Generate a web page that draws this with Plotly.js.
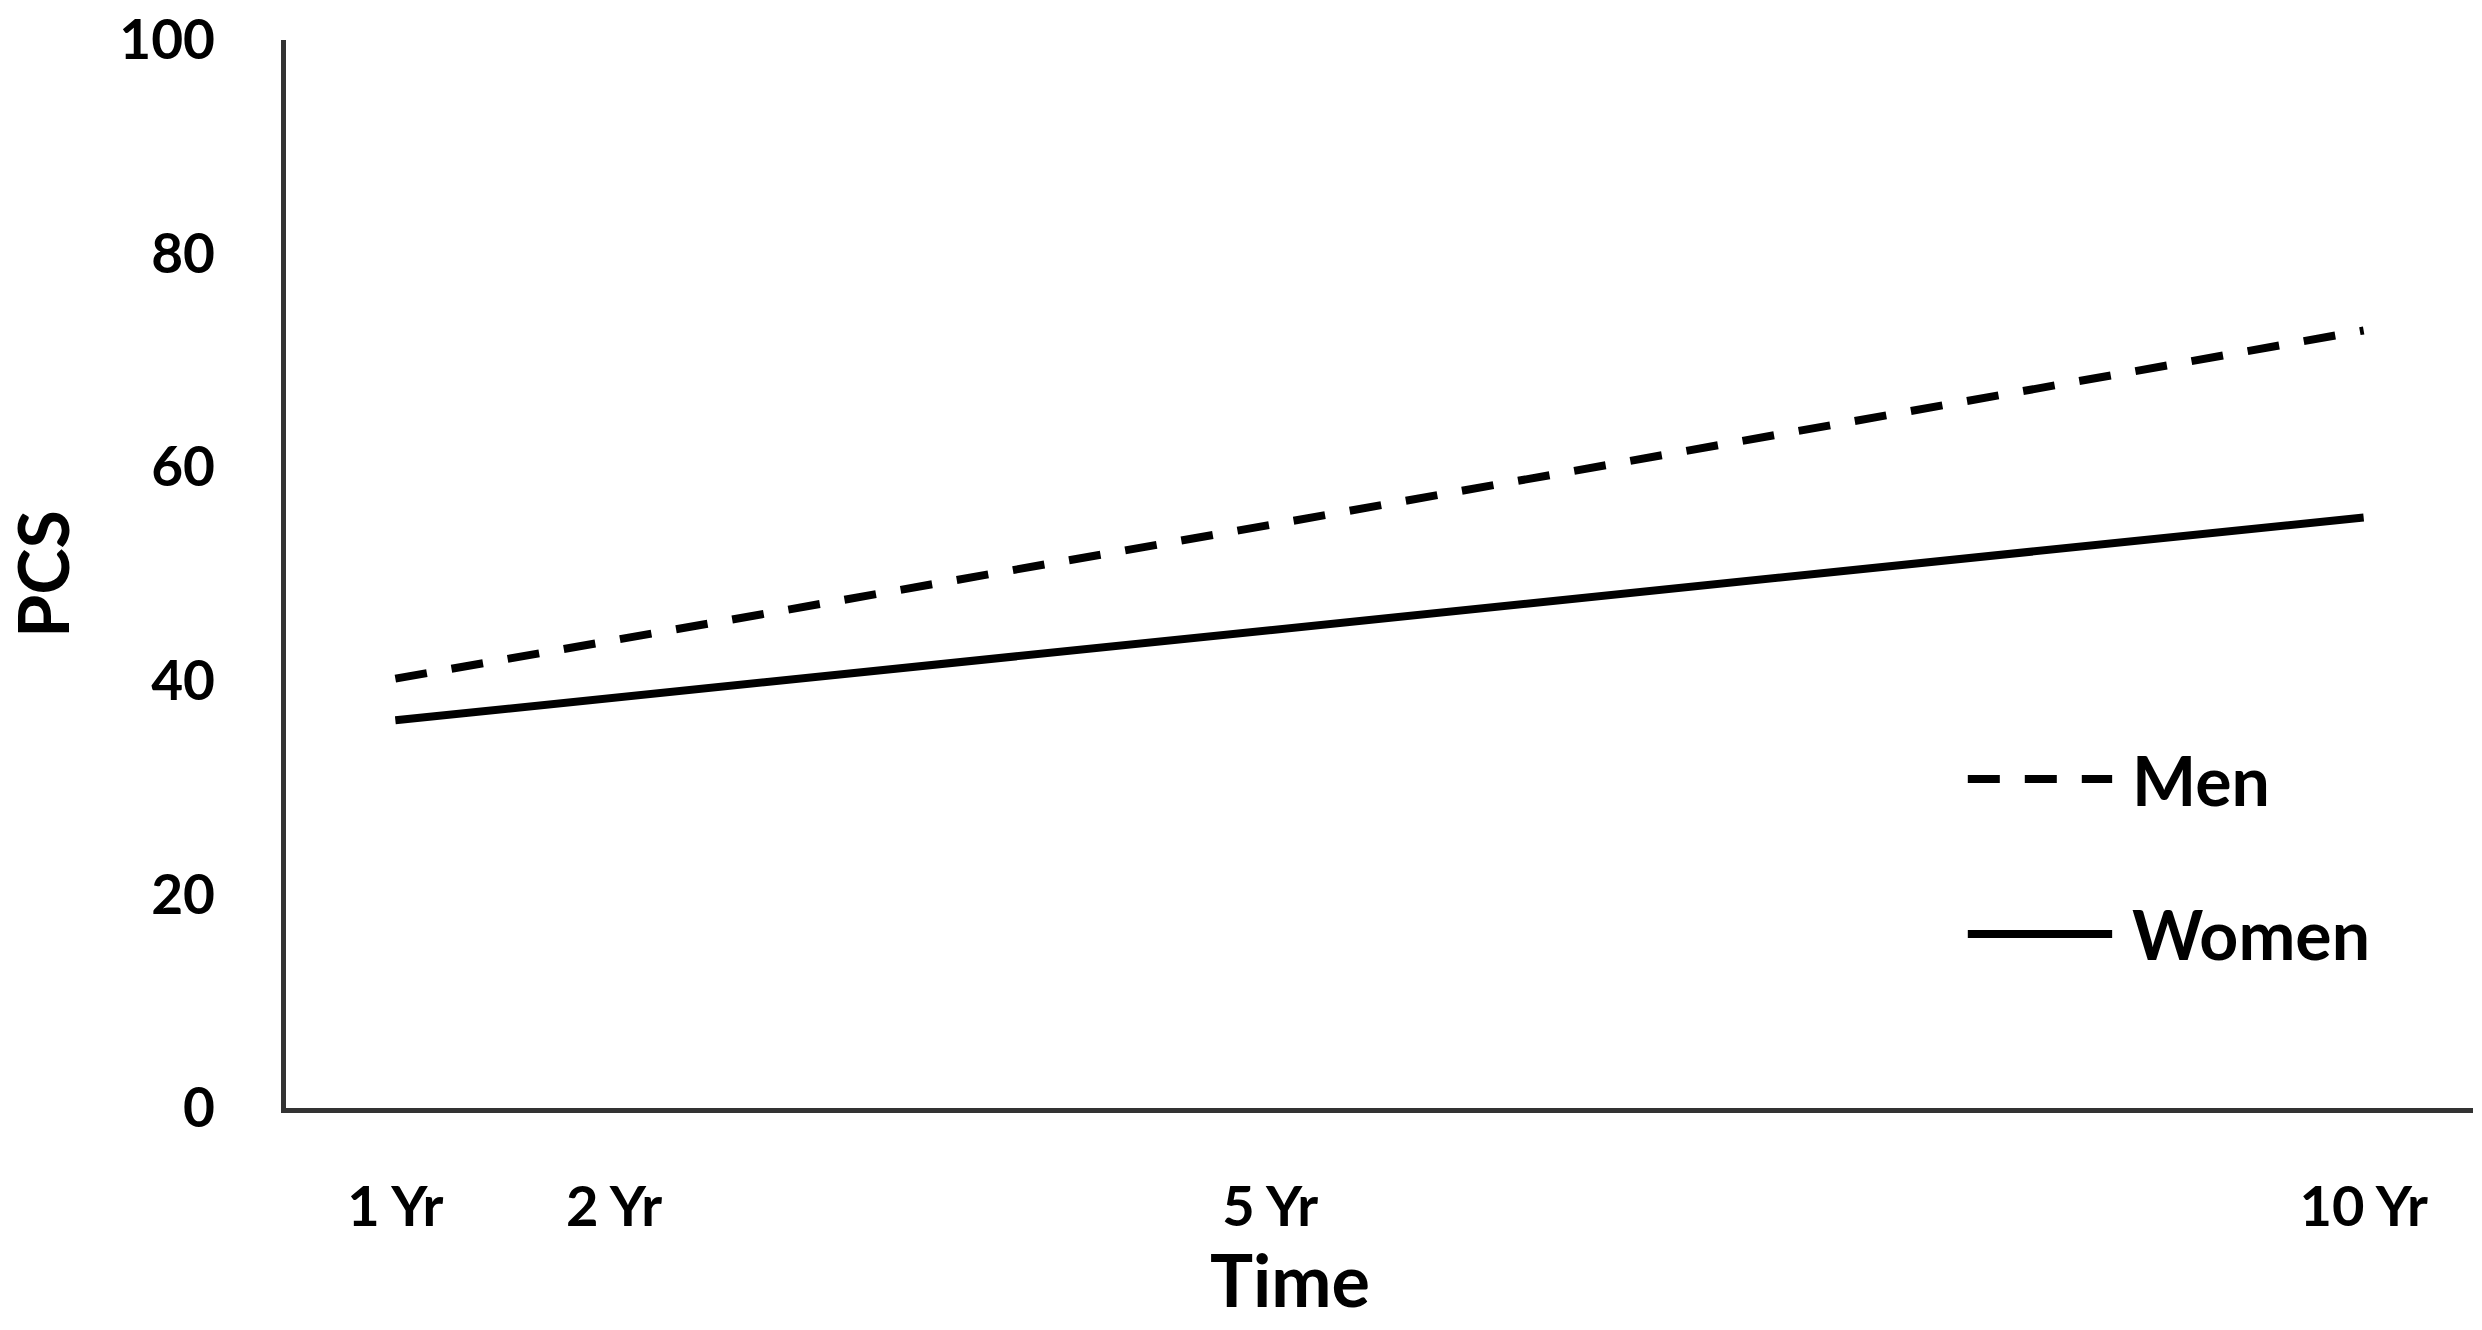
<!DOCTYPE html>
<html><head><meta charset="utf-8">
<script src="https://cdn.plot.ly/plotly-3.0.1.min.js"></script>
<style>html,body{margin:0;padding:0;background:#fff;} #chart{width:2482px;height:1330px;}</style>
</head><body><div id="chart"></div>
<script>
const timeYears = [1, 2, 5, 10];
const timeTickLabels = ['1 Yr', '2 Yr', '5 Yr', '10 Yr'];
const yTickValues = [0, 20, 40, 60, 80, 100];
const seriesNames = ['Men', 'Women'];
const menPCS = [40.2, 43.8, 54.6, 72.8];
const womenPCS = [36.3, 38.4, 44.8, 55.3];

const FONT = 'Lato, "Open Sans", sans-serif';
const DASH = '32px,25px';
const LINE_W = 8;

const traces = [
  {x: timeYears, y: menPCS, name: seriesNames[0], mode: 'lines', showlegend: false,
   line: {color: '#000', width: LINE_W, dash: DASH}},
  {x: timeYears, y: womenPCS, name: seriesNames[1], mode: 'lines', showlegend: false,
   line: {color: '#000', width: LINE_W}}
];

const legendRows = [
  {name: seriesNames[0], dash: DASH, y: 0.308},
  {name: seriesNames[1], dash: 'solid', y: 0.163}
];
const shapes = legendRows.map(r => ({
  type: 'line', xref: 'paper', yref: 'paper', x0: 0.769, x1: 0.835, y0: r.y, y1: r.y,
  line: {color: '#000', width: LINE_W, dash: r.dash}
}));
const annotations = legendRows.map(r => ({
  xref: 'paper', yref: 'paper', x: 0.843, y: r.y, xanchor: 'left', yanchor: 'middle',
  text: r.name, showarrow: false,
  font: {family: FONT, size: 68, color: '#000', weight: 'bold'}
}));
annotations.push({
  xref: 'paper', yref: 'paper', x: 0.459, y: -0.16, xanchor: 'center', yanchor: 'middle',
  text: 'Time', showarrow: false, borderpad: 0,
  font: {family: FONT, size: 72, color: '#000', weight: 'bold'}
});

const layout = {
  width: 2482, height: 1330,
  margin: {l: 286, r: 9, t: 40, b: 222},
  paper_bgcolor: '#fff', plot_bgcolor: '#fff',
  font: {family: FONT, color: '#000'},
  showlegend: false,
  xaxis: {
    range: [0.5, 10.5], tickvals: timeYears, ticktext: timeTickLabels,
    showline: true, linecolor: '#333', linewidth: 5, showgrid: false, zeroline: false,
    ticks: '', ticklabelstandoff: 46,
    tickfont: {family: FONT, size: 56, color: '#000', weight: 'bold'}
  },
  yaxis: {
    range: [0, 100], tickvals: yTickValues,
    showline: true, linecolor: '#333', linewidth: 5, showgrid: false, zeroline: false,
    ticks: '', ticklabelstandoff: 55,
    tickfont: {family: FONT, size: 55, color: '#000', weight: 'bold'},
    title: {text: 'PCS', standoff: 44, font: {family: FONT, size: 70, color: '#000', weight: 'bold'}}
  },
  shapes: shapes,
  annotations: annotations
};

Plotly.newPlot('chart', traces, layout, {displayModeBar: false, staticPlot: true});
</script>
</body></html>
